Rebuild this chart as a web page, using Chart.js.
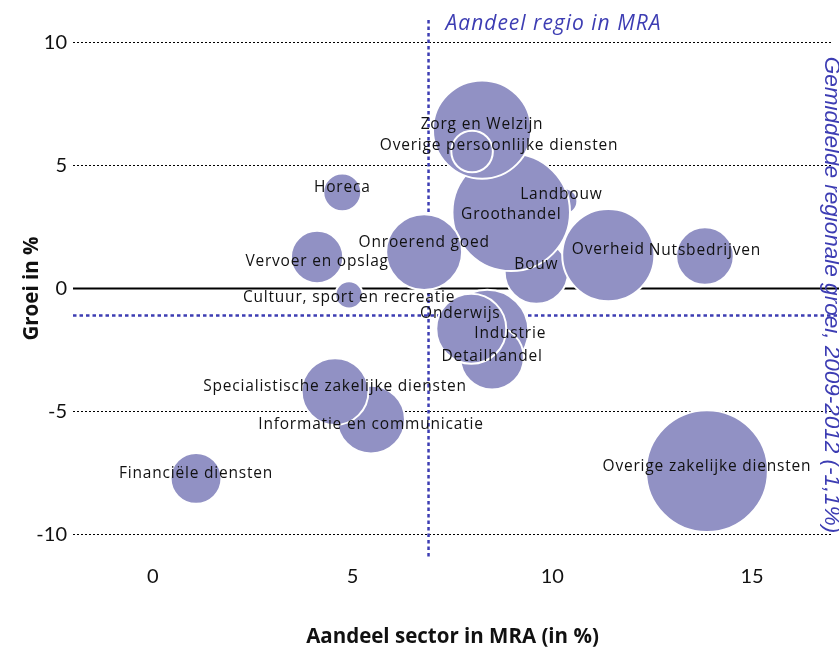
<!DOCTYPE html>
<html>
<head>
<meta charset="utf-8">
<script src="https://cdn.jsdelivr.net/npm/chart.js@4"></script>
<style>
html,body{margin:0;padding:0;background:#fff}
#wrap{width:839px;height:649px}
</style>
</head>
<body>
<div id="wrap"><canvas id="chart" width="839" height="649"></canvas></div>
<script>
// ======================= DATA =======================
// sectors in drawing order (first = back, last = front)
const sectors=['Landbouw','Bouw','Groothandel','Zorg en Welzijn','Overige persoonlijke diensten','Overheid','Nutsbedrijven','Onroerend goed','Horeca','Vervoer en opslag','Cultuur, sport en recreatie','Industrie','Detailhandel','Onderwijs','Informatie en communicatie','Specialistische zakelijke diensten','Financiële diensten','Overige zakelijke diensten'];
const aandeel=[10.3,9.6,8.97,8.24,7.99,11.4,13.82,6.79,4.74,4.11,4.91,8.37,8.49,7.97,5.46,4.56,1.08,13.87];   // x: aandeel sector in MRA (%)
const groei=[3.55,0.67,3.1,6.46,5.57,1.36,1.32,1.48,3.91,1.28,-0.26,-1.72,-2.82,-1.64,-5.33,-4.19,-7.72,-7.43]; // y: groei (%)
const omvang=[4.7,28,96,67,12,59,23,40,10,19,5.2,47,28,34,32,31,18,103]; // bubble size

const xTicks=[0,5,10,15];
const yTicks=[-10,-5,0,5,10];
const regioAandeel=6.9;   // vertical reference line
const gemGroei=-1.1;      // horizontal reference line

const BLUE='#3d3db3';
const BUBBLE='#9191c4';

// label nudges in px relative to bubble centre (default [0,-5])
const labelShift={
  'Overige persoonlijke diensten':[27,-6],
  'Onderwijs':[-11,-15],
  'Industrie':[23,3],
  'Vervoer en opslag':[0,5],
  'Cultuur, sport en recreatie':[0,3],
  'Landbouw':[-3,-7],
  'Onroerend goed':[0,-10],
  'Groothandel':[0,2],
  'Bouw':[0,-7],
  'Detailhandel':[0,-1],
  'Informatie en communicatie':[0,5]
};

// ======================= PLUGINS =======================
const refLines={
  id:'refLines',
  beforeDatasetsDraw(chart){
    const {ctx,chartArea:a,scales:{x,y}}=chart;
    ctx.save();
    // zero line
    const y0=y.getPixelForValue(0);
    ctx.strokeStyle='#000';ctx.lineWidth=2;
    ctx.beginPath();ctx.moveTo(a.left,y0);ctx.lineTo(chart.width,y0);ctx.stroke();
    // blue dotted lines
    ctx.strokeStyle=BLUE;ctx.lineWidth=2.5;ctx.setLineDash([3.5,3]);
    const gy=y.getPixelForValue(gemGroei);
    ctx.beginPath();ctx.moveTo(a.left,gy);ctx.lineTo(chart.width,gy);ctx.stroke();
    const rx=x.getPixelForValue(regioAandeel);
    ctx.beginPath();ctx.moveTo(rx,a.top+2);ctx.lineTo(rx,a.bottom);ctx.stroke();
    ctx.restore();
  },
  afterDatasetsDraw(chart){
    const {ctx,scales:{x}}=chart;
    const meta=chart.getDatasetMeta(0);
    ctx.save();
    ctx.fillStyle='#111';
    ctx.font='15.5px "Open Sans"';
    ctx.letterSpacing='0.8px';
    ctx.textAlign='center';ctx.textBaseline='middle';
    meta.data.forEach((pt,i)=>{
      const s=labelShift[sectors[i]]||[0,-5];
      ctx.fillText(sectors[i],pt.x+s[0],pt.y+s[1]);
    });
    // annotations
    ctx.fillStyle=BLUE;
    ctx.font='italic 21px "Open Sans"';
    ctx.letterSpacing='1px';
    ctx.textAlign='left';ctx.textBaseline='alphabetic';
    ctx.fillText('Aandeel regio in MRA',x.getPixelForValue(regioAandeel)+17,30);
    ctx.letterSpacing='0px';
    ctx.translate(831,295);
    ctx.rotate(Math.PI/2);
    ctx.textAlign='center';ctx.textBaseline='middle';
    ctx.font='italic 22.5px "Liberation Sans"';
    ctx.fillText('Gemiddelde regionale groei, 2009-2012 (-1,1%)',0,0);
    ctx.restore();
  }
};

// ======================= CHART =======================
new Chart(document.getElementById('chart'),{
  type:'bubble',
  data:{
    datasets:[{
      label:'Sectoren',
      data:sectors.map((s,i)=>({x:aandeel[i],y:groei[i],r:6*Math.sqrt(omvang[i])})),
      backgroundColor:BUBBLE,
      borderColor:'#fff',
      borderWidth:2,
      clip:false
    }]
  },
  options:{
    responsive:false,
    animation:false,
    events:[],
    layout:{autoPadding:false,padding:{top:16,right:7,left:0,bottom:0}},
    plugins:{legend:{display:false},tooltip:{enabled:false}},
    scales:{
      x:{
        type:'linear',min:-2,max:17,
        afterBuildTicks:ax=>{ax.ticks=xTicks.map(v=>({value:v}));},
        afterFit:ax=>{ax.height=90;},
        grid:{display:false,drawTicks:false},
        border:{display:false},
        ticks:{color:'#111',font:{family:'Lato',size:20},padding:6},
        title:{display:true,text:'Aandeel sector in MRA (in %)',color:'#111',font:{family:'Open Sans',size:20.5,weight:'bold'},padding:{top:0,bottom:0}}
      },
      y:{
        type:'linear',min:-11,max:11,
        afterBuildTicks:ax=>{ax.ticks=yTicks.map(v=>({value:v}));},
        afterFit:ax=>{ax.width=73;},
        grid:{color:'#000',lineWidth:1,drawTicks:false},
        border:{display:false,dash:[2,2]},
        ticks:{color:'#111',font:{family:'Lato',size:20},padding:6},
        title:{display:true,text:'Groei in %',color:'#111',font:{family:'Open Sans',size:20.5,weight:'bold'},padding:{top:20,bottom:0}}
      }
    }
  },
  plugins:[refLines]
});
</script>
</body>
</html>
